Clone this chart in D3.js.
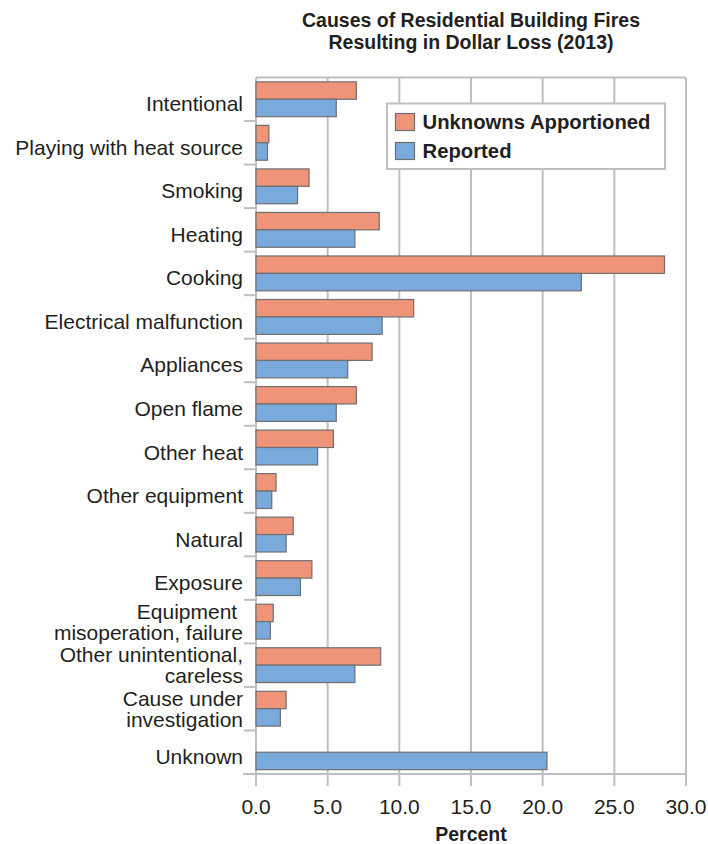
<!DOCTYPE html>
<html><head><meta charset="utf-8">
<script src="https://cdn.jsdelivr.net/npm/d3@7/dist/d3.min.js"></script>
<style>body{margin:0;background:#fff}svg{display:block}text{fill:#231f20}</style>
</head><body><div id="chart"></div>
<script>
const categories = [
  ["Intentional"],
  ["Playing with heat source"],
  ["Smoking"],
  ["Heating"],
  ["Cooking"],
  ["Electrical malfunction"],
  ["Appliances"],
  ["Open flame"],
  ["Other heat"],
  ["Other equipment"],
  ["Natural"],
  ["Exposure"],
  ["Equipment ", "misoperation, failure"],
  ["Other unintentional,", "careless"],
  ["Cause under", "investigation"],
  ["Unknown"]
];
const unknownsApportioned = [7.0, 0.9, 3.7, 8.6, 28.5, 11.0, 8.1, 7.0, 5.4, 1.4, 2.6, 3.9, 1.2, 8.7, 2.1, null];
const reported = [5.6, 0.8, 2.9, 6.9, 22.7, 8.8, 6.4, 5.6, 4.3, 1.1, 2.1, 3.1, 1.0, 6.9, 1.7, 20.3];
const seriesNames = ["Unknowns Apportioned", "Reported"];
const xTicks = [0, 5, 10, 15, 20, 25, 30];
const titleLines = ["Causes of Residential Building Fires", "Resulting in Dollar Loss (2013)"];
const xTitle = "Percent";

const W = 708, H = 844;
const m = {left: 256, right: 22, top: 77.5, bottom: 70};
const colors = ["#f09479", "#7aaadc"];
const gridC = "#bfbfc3";
const FONT = "Liberation Sans, Arial, sans-serif";

const svg = d3.select("#chart").append("svg").attr("width", W).attr("height", H);
const x = d3.scaleLinear().domain([0, 30]).range([m.left, W - m.right]);
const y = d3.scaleBand().domain(d3.range(categories.length)).range([m.top, H - m.bottom]).paddingInner(0.2).paddingOuter(0.1);
const yb = d3.scaleBand().domain(d3.range(categories.length)).range([m.top, H - m.bottom]);
const sub = d3.scaleBand().domain([0, 1]).range([0, y.bandwidth()]);

const y0 = m.top, y1 = H - m.bottom;
svg.append("g").selectAll("line").data(xTicks).join("line")
  .attr("x1", d => x(d)).attr("x2", d => x(d))
  .attr("y1", y0).attr("y2", y1 + 12)
  .attr("stroke", gridC).attr("stroke-width", 2);
svg.append("line").attr("x1", x(0)).attr("x2", x(30)).attr("y1", y0).attr("y2", y0).attr("stroke", gridC).attr("stroke-width", 2);
svg.append("line").attr("x1", x(0) - 13).attr("x2", x(30)).attr("y1", y1).attr("y2", y1).attr("stroke", gridC).attr("stroke-width", 2);
svg.append("g").selectAll("line").data(d3.range(1, categories.length)).join("line")
  .attr("x1", x(0) - 12).attr("x2", x(0))
  .attr("y1", d => yb(d)).attr("y2", d => yb(d))
  .attr("stroke", gridC).attr("stroke-width", 2);

const series = [unknownsApportioned, reported];
series.forEach((vals, si) => {
  svg.append("g").selectAll("rect").data(vals.map((v, i) => ({v, i})).filter(d => d.v != null)).join("rect")
    .attr("x", x(0))
    .attr("y", d => y(d.i) + sub(si))
    .attr("width", d => x(d.v) - x(0))
    .attr("height", sub.bandwidth())
    .attr("fill", colors[si])
    .attr("stroke", "#6f6f72").attr("stroke-width", 1.2);
});

const lab = svg.append("g").attr("font-family", FONT).attr("font-size", 21);
categories.forEach((lines, i) => {
  const cy = yb(i) + yb.bandwidth() / 2;
  lines.forEach((t, j) => {
    const base = lines.length === 1 ? cy + 12 : cy - 3 + j * 21;
    lab.append("text").attr("x", 243).attr("y", base)
      .attr("text-anchor", "end").style("white-space", "pre").text(t);
  });
});

svg.append("g").selectAll("text").data(xTicks).join("text")
  .attr("x", d => x(d)).attr("y", 814).attr("text-anchor", "middle")
  .attr("font-family", FONT).attr("font-size", 21)
  .text(d => d3.format(".1f")(d));

svg.append("text").attr("x", x(15)).attr("y", 841).attr("text-anchor", "middle")
  .attr("font-family", FONT).attr("font-size", 19.5).attr("font-weight", "bold").text(xTitle);

titleLines.forEach((t, i) => {
  svg.append("text").attr("x", x(15)).attr("y", 26.5 + i * 22).attr("text-anchor", "middle")
    .attr("font-family", FONT).attr("font-size", 19.5).attr("font-weight", "bold").text(t);
});

const lg = svg.append("g");
lg.append("rect").attr("x", 387).attr("y", 103.5).attr("width", 278).attr("height", 65.5)
  .attr("fill", "#fff").attr("stroke", gridC).attr("stroke-width", 2);
seriesNames.forEach((n, i) => {
  lg.append("rect").attr("x", 395.5).attr("y", 113.5 + i * 29).attr("width", 19).attr("height", 17)
    .attr("fill", colors[i]).attr("stroke", "#6f6f72").attr("stroke-width", 1.2);
  lg.append("text").attr("x", 422.5).attr("y", 129.3 + i * 28.5)
    .attr("font-family", FONT).attr("font-size", 20.3).attr("font-weight", "bold").text(n);
});
</script></body></html>
